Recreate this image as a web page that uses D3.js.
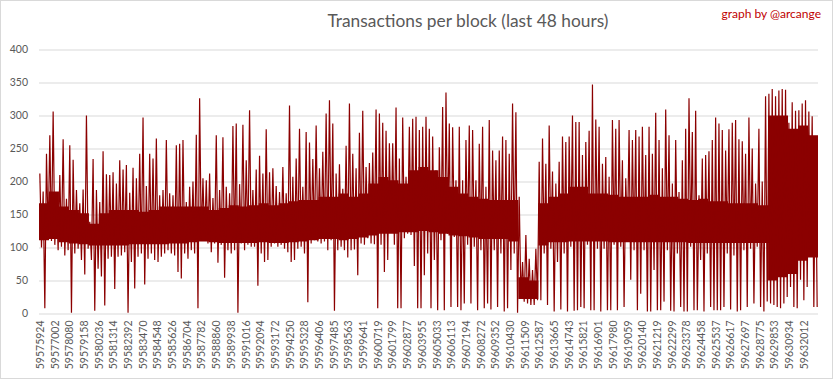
<!DOCTYPE html>
<html><head><meta charset="utf-8">
<script src="https://cdn.jsdelivr.net/npm/d3@7/dist/d3.min.js"></script>
<style>body{margin:0;background:#fff}svg{display:block}</style>
</head><body>
<svg id="chart" width="833" height="379"></svg>
<script>
const chartTitle = "Transactions per block (last 48 hours)";
const credit = "graph by @arcange";
const yTicks = [0, 50, 100, 150, 200, 250, 300, 350, 400];
const xTickLabels = ["59575924","59577002","59578080","59579158","59580236","59581314","59582392","59583470","59584548","59585626","59586704","59587782","59588860","59589938","59591016","59592094","59593172","59594250","59595328","59596406","59597485","59598563","59599641","59600719","59601799","59602877","59603955","59605033","59606113","59607194","59608272","59609352","59610430","59611509","59612587","59613665","59614743","59615821","59616901","59617980","59619059","59620140","59621219","59622299","59623378","59624458","59625537","59626617","59627697","59628775","59629853","59630934","59632012"];
const pointsPerLabel = 1078;
const totalPoints = 57157;

// per sample group: highest and lowest transactions-per-block
const blockHigh = [
212,185,242,270,306,172,210,264,174,255,233,187,167,188,300,139,234,187,169,246,211,210,214,197,232,218,225,183,221,205,242,297,193,242,235,265,179,187,263,182,179,255,257,263,169,192,200,271,
326,205,202,212,175,270,187,267,192,182,284,288,196,286,232,308,187,218,239,212,279,214,220,193,184,222,182,315,207,235,280,192,275,259,234,285,220,245,303,323,288,212,226,189,254,318,242,
220,274,307,222,228,244,309,303,289,277,258,258,312,235,297,207,283,295,298,278,283,298,280,268,217,252,313,335,288,282,202,283,202,263,285,278,202,257,283,192,293,247,232,247,268,263,242,
318,305,177,78,119,83,66,98,230,265,227,285,215,197,230,268,260,268,300,290,290,240,260,277,347,294,283,227,237,207,293,280,293,232,205,278,263,278,268,283,240,283,242,304,263,220,309,
270,197,263,184,232,280,326,275,307,179,235,240,246,263,297,288,278,247,279,289,293,264,261,242,297,250,197,280,200,329,333,340,329,338,340,339,289,320,307,308,318,323,306,299,255
];
const blockLow = [
100,8,119,110,104,96,101,88,96,1,91,98,81,59,98,81,4,68,56,12,83,86,37,86,88,93,1,78,38,86,91,44,83,91,81,78,86,91,96,91,88,63,53,91,83,96,91,8,
111,111,106,93,106,77,104,54,96,91,96,1,106,96,104,101,101,42,91,78,81,101,106,101,104,98,93,78,81,98,101,91,17,106,111,109,106,109,96,111,4,96,101,96,85,96,97,
58,106,104,114,106,105,8,104,63,81,124,104,8,8,114,121,119,72,8,8,58,91,8,81,5,111,5,121,10,116,10,5,15,104,15,101,5,96,8,15,6,96,10,91,3,8,66,
91,1,25,18,15,13,13,20,20,91,13,98,3,78,6,91,3,101,4,5,10,8,104,5,5,98,3,98,5,5,104,5,101,10,111,51,96,5,30,96,3,3,66,5,5,18,96,
4,3,91,10,3,3,101,5,5,81,3,91,10,5,5,5,10,91,6,88,3,5,96,10,98,15,101,10,3,18,15,13,10,8,15,25,40,10,8,51,20,40,86,10,10
];
// dense core band (where blocks pile up solidly), coarser groups
const coreTop = [
167,185,162,157,152,136,152,157,157,157,154,157,162,162,162,162,
162,157,160,164,162,164,167,164,167,170,172,172,177,177,182,177,
182,197,207,202,197,217,222,217,207,192,182,177,174,172,172,172,
55,50,167,177,182,192,192,182,182,180,177,177,177,180,177,177,174,172,174,170,170,167,167,167,164,
300,300,280,285,270
];
const coreBottom = [
111,113,108,106,105,103,103,103,103,105,105,105,105,106,106,108,
109,108,107,107,107,107,108,107,107,108,109,111,113,113,111,113,
115,118,121,121,123,123,125,123,121,118,117,115,113,113,113,109,
22,22,103,108,108,109,109,109,109,108,108,108,108,108,108,108,108,107,107,107,107,107,107,107,107,
50,55,60,80,85
];

const W = 833, H = 379;
const plotLeft = 39, plotRight = 818, plotTop = 49.5, plotBottom = 313.5;
const red = "#8b0000";
const svg = d3.select("#chart");
svg.append("rect").attr("x", 0.5).attr("y", 0.5).attr("width", W - 1).attr("height", H - 1)
  .attr("fill", "#fff").attr("stroke", "#d9d9d9");

const x = d3.scaleLinear().domain([0, totalPoints]).range([plotLeft, plotRight]);
const y = d3.scaleLinear().domain([0, 400]).range([plotBottom, plotTop]);

const gy = svg.append("g").attr("transform", `translate(${plotLeft},0)`)
  .call(d3.axisLeft(y).tickValues(yTicks).tickSize(-(plotRight - plotLeft)).tickPadding(11).tickFormat(d3.format("d")));
gy.select(".domain").remove();
gy.selectAll(".tick line").attr("stroke", "#d9d9d9").attr("stroke-width", 1);
gy.selectAll(".tick text").attr("fill", "#595959").style("font-family", "Lato").style("font-size", "10.5px");

// core band
const nCore = coreTop.length;
const coreIdx = d3.range(nCore + 1);
const area = d3.area()
  .x(g => x(g * totalPoints / nCore))
  .y0(g => y(coreBottom[Math.min(g, nCore - 1)]))
  .y1(g => y(coreTop[Math.min(g, nCore - 1)]))
  .curve(d3.curveStepAfter);
svg.append("path").datum(coreIdx).attr("d", area).attr("fill", red);

// high/low series as one polyline
const samples = blockHigh.flatMap((h, i) => [h, blockLow[i]]);
const line = d3.line()
  .x((d, j) => x((j + 0.5) * totalPoints / samples.length))
  .y(d => y(d));
svg.append("path").datum(samples).attr("d", line)
  .attr("fill", "none").attr("stroke", red).attr("stroke-width", 1.2);

const gx = svg.append("g").attr("transform", `translate(0,${plotBottom})`)
  .call(d3.axisBottom(x).tickValues(xTickLabels.map((d, k) => k * pointsPerLabel + 40)).tickSize(0)
    .tickFormat((d, k) => xTickLabels[k]));
gx.select(".domain").remove();
gx.selectAll(".tick text")
  .attr("transform", "rotate(-90)").attr("text-anchor", "end")
  .attr("x", -7).attr("y", 0).attr("dy", "0.36em")
  .attr("fill", "#595959").style("font-family", "Lato").style("font-size", "10.5px");

svg.append("text").attr("x", 468).attr("y", 26.5).attr("text-anchor", "middle")
  .attr("textLength", 281).attr("lengthAdjust", "spacingAndGlyphs")
  .attr("fill", "#595959").style("font-family", "Lato").style("font-size", "18px")
  .text(chartTitle);

svg.append("text").attr("x", 821).attr("y", 18).attr("text-anchor", "end")
  .attr("fill", "#c00000").style("font-family", "Lato").style("font-size", "12px")
  .text(credit);
</script>
</body></html>
